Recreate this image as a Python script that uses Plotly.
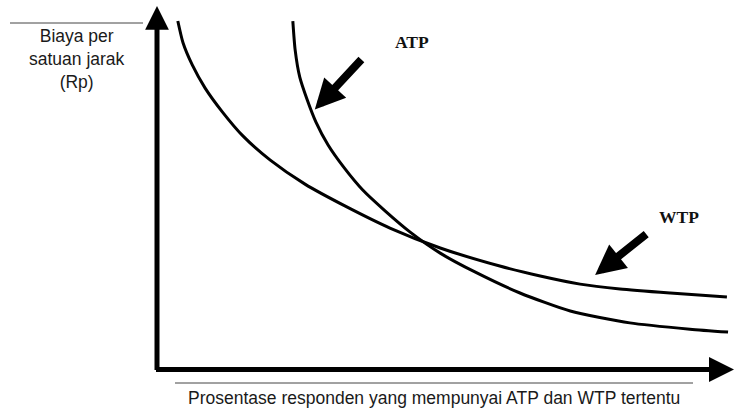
import plotly.graph_objects as go

# ---- data (x = % respondents, y = cost per distance, arbitrary 0-100 units)
wtp_x = [3.6, 4.5, 6.1, 8.3, 11.3, 14.9, 19.6, 25.6, 32.5, 40.3, 49.0, 59.3, 66.3, 73.2, 80.1, 88.8, 98.6]
wtp_y = [94.3, 88.4, 82.4, 76.2, 69.7, 63.1, 56.6, 50.1, 44.2, 38.2, 32.8, 27.9, 25.2, 23.0, 21.7, 20.6, 19.5]

atp_x = [23.5, 23.9, 24.7, 26.0, 27.5, 29.6, 32.4, 35.6, 39.5, 43.8, 49.0, 55.0, 62.8, 71.5, 81.8, 92.2, 98.8]
atp_y = [94.3, 86.5, 79.1, 72.9, 66.9, 60.7, 54.5, 48.5, 42.8, 37.1, 31.4, 26.3, 20.6, 15.7, 12.5, 10.8, 10.0]

labels = ["ATP", "WTP"]
# label anchor and arrow tip/tail in data units
label_pos = {"ATP": (44.2, 88.6), "WTP": (90.3, 41.2)}
arrow_tip = {"ATP": (27.3, 70.3), "WTP": (75.8, 25.5)}
arrow_tail = {"ATP": (35.6, 84.3), "WTP": (84.9, 36.9)}

y_title = "Biaya per<br>satuan jarak<br>(Rp)"
x_title = "Prosentase responden yang mempunyai ATP dan WTP tertentu"

W, H = 735, 409

def px(x):
    return x / W

def py(y):
    return 1 - y / H

fig = go.Figure()
for xs, ys, nm in [(wtp_x, wtp_y, "WTP"), (atp_x, atp_y, "ATP")]:
    fig.add_trace(go.Scatter(x=xs, y=ys, mode="lines", name=nm,
                             line=dict(color="black", width=3, shape="spline", smoothing=0.6),
                             hoverinfo="skip"))

annotations = []
# axis arrows
annotations.append(dict(xref="paper", yref="paper", x=px(157), y=py(6), text="",
                        showarrow=True, arrowhead=2, arrowsize=0.95, arrowwidth=5,
                        arrowcolor="black", ax=0, ay=365.5, standoff=0))
annotations.append(dict(xref="paper", yref="paper", x=px(741), y=py(369.5), text="",
                        showarrow=True, arrowhead=2, arrowsize=1.0, arrowwidth=5,
                        arrowcolor="black", ax=-586.5, ay=0, standoff=0))

for lab in labels:
    tx, ty = arrow_tip[lab]
    sx, sy = arrow_tail[lab]
    annotations.append(dict(x=tx, y=ty, ax=sx, ay=sy, xref="x", yref="y", axref="x", ayref="y",
                            text="", showarrow=True, arrowhead=2, arrowsize=0.75, arrowwidth=8,
                            arrowcolor="black", standoff=0))
    lx, ly = label_pos[lab]
    annotations.append(dict(x=lx, y=ly, xref="x", yref="y", text="<b>%s</b>" % lab,
                            showarrow=False, xanchor="center", yanchor="middle",
                            font=dict(family="Liberation Serif", size=17.5, color="#111111")))

annotations.append(dict(xref="paper", yref="paper", x=px(77), y=py(59), text=y_title,
                        showarrow=False, xanchor="center", yanchor="middle", align="center",
                        font=dict(family="Liberation Sans", size=17.5, color="#1a1a1a")))
annotations.append(dict(xref="paper", yref="paper", x=px(433.5), y=py(397.5), text=x_title,
                        showarrow=False, xanchor="center", yanchor="middle",
                        font=dict(family="Liberation Sans", size=17.5, color="#1a1a1a")))

shapes = [
    dict(type="line", xref="paper", yref="paper", x0=px(10), x1=px(143), y0=py(23), y1=py(23),
         line=dict(color="#444444", width=1)),
    dict(type="line", xref="paper", yref="paper", x0=px(175), x1=px(693), y0=py(383), y1=py(383),
         line=dict(color="#444444", width=1)),
]

fig.update_layout(
    width=W, height=H,
    margin=dict(l=0, r=0, t=0, b=0, pad=0),
    paper_bgcolor="white", plot_bgcolor="white",
    showlegend=False,
    xaxis=dict(range=[0, 100], domain=[157 / W, 1], showgrid=False, zeroline=False,
               showticklabels=False, showline=False, ticks="", fixedrange=True),
    yaxis=dict(range=[0, 100], domain=[1 - 369 / H, 1], showgrid=False, zeroline=False,
               showticklabels=False, showline=False, ticks="", fixedrange=True),
    annotations=annotations,
    shapes=shapes,
)

fig.write_html("out.html", config={"displayModeBar": False},
               post_script="document.body.style.margin='0';document.body.style.padding='0';")
